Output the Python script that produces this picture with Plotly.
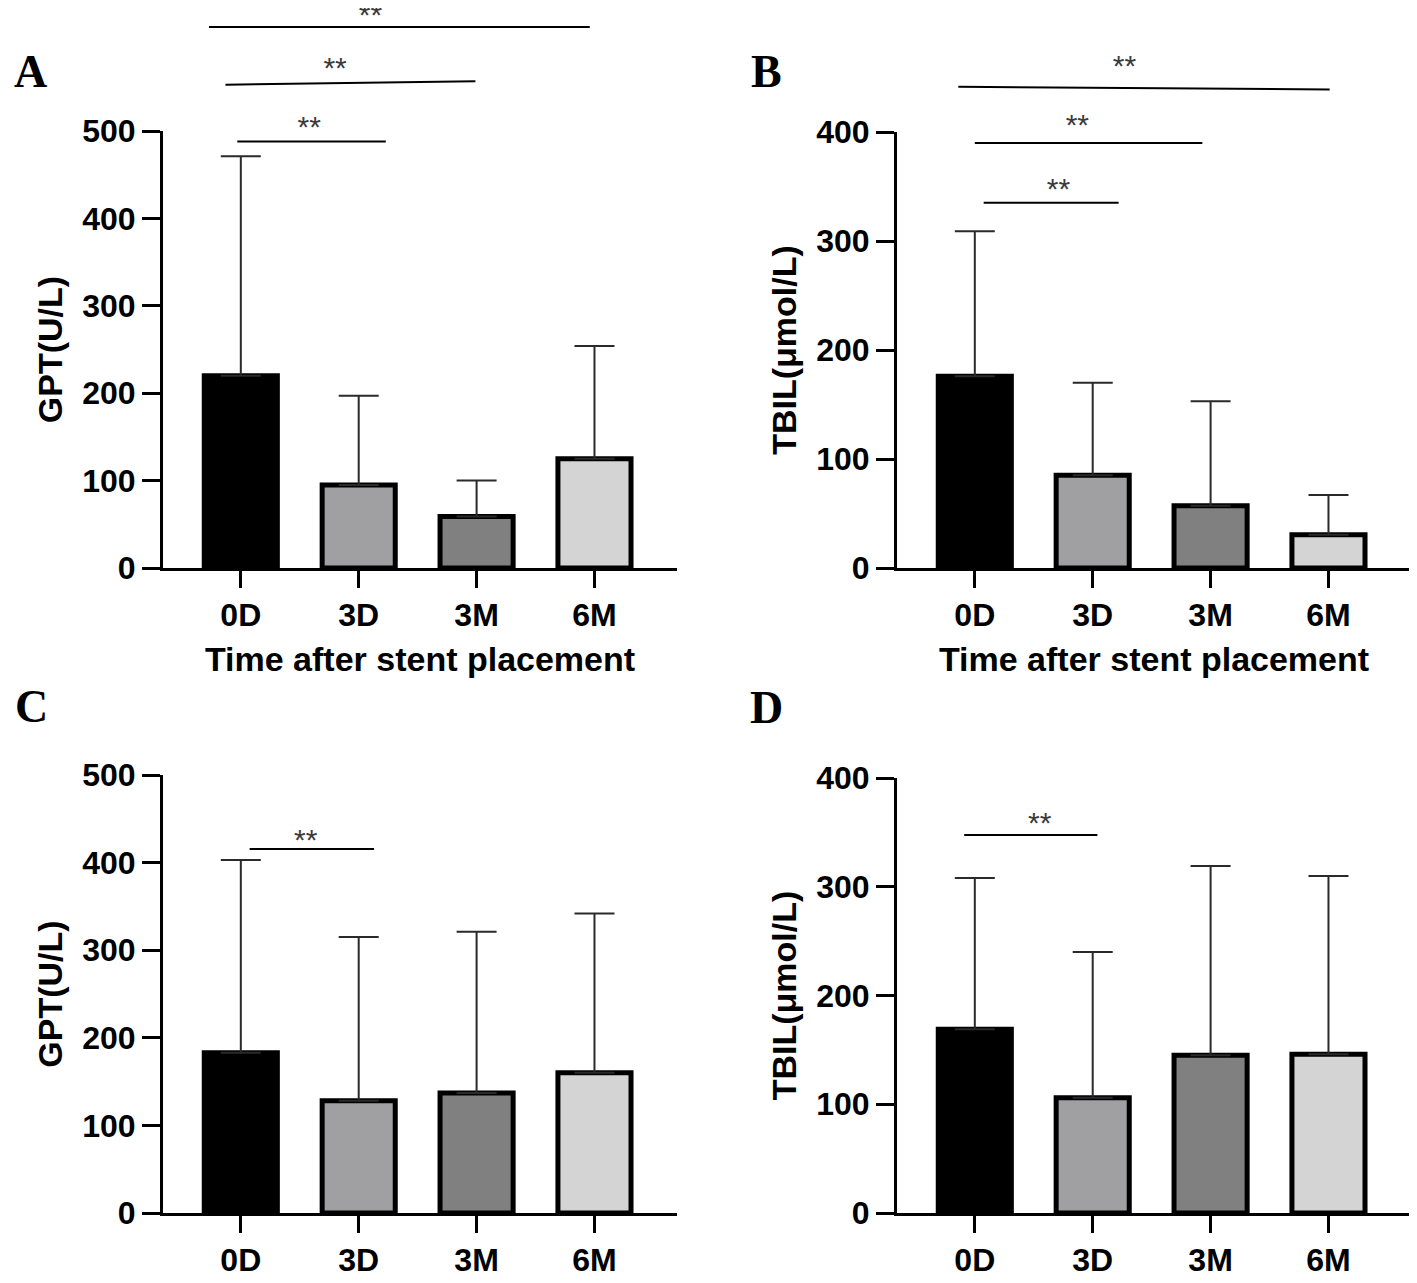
import plotly.graph_objects as go

# categories and bar styling
time_points = ["0D", "3D", "3M", "6M"]
x_pos = [0, 1, 2, 3]
bar_colors = ["#000000", "#a0a0a3", "#808080", "#d4d4d4"]

gpt_ticks = [0, 100, 200, 300, 400, 500]
tbil_ticks = [0, 100, 200, 300, 400]

# panel A: GPT, group 1
gpt_a_mean = [220, 95, 59, 125]
gpt_a_sd = [251, 102, 41, 129]
# panel B: TBIL, group 1
tbil_b_mean = [176, 85, 57, 30.5]
tbil_b_sd = [133, 85, 96, 36.5]
# panel C: GPT, group 2
gpt_c_mean = [183, 128, 137, 160]
gpt_c_sd = [220, 187, 184, 182]
# panel D: TBIL, group 2
tbil_d_mean = [169, 106, 145, 146]
tbil_d_sd = [139, 134, 174, 164]

# significance brackets (x in category units, y in data units)
sig_a_x0 = [-0.03, -0.13, -0.27]
sig_a_x1 = [1.23, 1.99, 2.96]
sig_a_y0 = [488, 553, 619]
sig_a_y1 = [488, 557, 619]
sig_a_star_x = [0.58, 0.80, 1.10]
sig_a_star_y = [502, 569, 630]

sig_b_x0 = [0.075, 0.0, -0.14]
sig_b_x1 = [1.22, 1.93, 3.01]
sig_b_y0 = [335, 390, 441.5]
sig_b_y1 = [335, 390, 439]
sig_b_star_x = [0.71, 0.87, 1.27]
sig_b_star_y = [345, 404, 458]

sig_c_x0 = [0.075]
sig_c_x1 = [1.13]
sig_c_y0 = [415.5]
sig_c_y1 = [415.5]
sig_c_star_x = [0.55]
sig_c_star_y = [423]

sig_d_x0 = [-0.09]
sig_d_x1 = [1.04]
sig_d_y0 = [347.6]
sig_d_y1 = [347.6]
sig_d_star_x = [0.55]
sig_d_star_y = [356]

FONT = "Liberation Sans"
W, H = 1417, 1283
PAGE = 8  # the html page puts the figure 8px in from the top left corner

# panel frames in screen pixels: (left, right, top of y axis, baseline, top of annotation area)
frames = {
    1: (163, 677, 131, 568, 8),
    2: (897, 1411, 132, 568, 8),
    3: (163, 677, 775, 1213, 690),
    4: (897, 1411, 778, 1213, 690),
}


def fx(px):
    return (px - PAGE) / W


def fy(py):
    return 1 - (py - PAGE) / H


fig = go.Figure()


def add_panel(n, mean, sd, x0s, x1s, y0s, y1s, star_x, star_y):
    xa = "x" if n == 1 else f"x{n}"
    ya = "y" if n == 1 else f"y{n}"
    ya_sig = f"y{n + 4}"
    fig.add_trace(go.Bar(
        x=x_pos, y=mean, width=0.62,
        marker=dict(color=bar_colors, line=dict(color="black", width=5)),
        error_y=dict(type="data", array=sd, arrayminus=[0] * len(sd), symmetric=False,
                     color="#2a2a2a", thickness=2, width=20),
        xaxis=xa, yaxis=ya, showlegend=False,
    ))
    for x0, x1, y0, y1 in zip(x0s, x1s, y0s, y1s):
        fig.add_trace(go.Scatter(
            x=[x0, x1], y=[y0, y1], mode="lines",
            line=dict(color="black", width=2),
            cliponaxis=False, xaxis=xa, yaxis=ya_sig, showlegend=False, hoverinfo="skip",
        ))
    fig.add_trace(go.Scatter(
        x=star_x, y=star_y, mode="text", text=["**"] * len(star_x),
        textposition="middle center",
        textfont=dict(family=FONT, size=30, color="#3b3b3b"),
        cliponaxis=False, xaxis=xa, yaxis=ya_sig, showlegend=False, hoverinfo="skip",
    ))


add_panel(1, gpt_a_mean, gpt_a_sd, sig_a_x0, sig_a_x1, sig_a_y0, sig_a_y1, sig_a_star_x, sig_a_star_y)
add_panel(2, tbil_b_mean, tbil_b_sd, sig_b_x0, sig_b_x1, sig_b_y0, sig_b_y1, sig_b_star_x, sig_b_star_y)
add_panel(3, gpt_c_mean, gpt_c_sd, sig_c_x0, sig_c_x1, sig_c_y0, sig_c_y1, sig_c_star_x, sig_c_star_y)
add_panel(4, tbil_d_mean, tbil_d_sd, sig_d_x0, sig_d_x1, sig_d_y0, sig_d_y1, sig_d_star_x, sig_d_star_y)

tick_font = dict(family=FONT, size=32, color="black", weight="bold")
title_font = dict(family=FONT, size=34, color="black", weight="bold")


def x_axis(n, title):
    left, right = frames[n][0], frames[n][1]
    ax = dict(domain=[fx(left), fx(right)], range=[-0.66, 3.70],
              anchor="y" if n == 1 else f"y{n}", automargin=False,
              tickvals=x_pos, ticktext=time_points, tickfont=tick_font,
              showline=True, linewidth=3, linecolor="black",
              ticks="outside", ticklen=17, tickwidth=3, tickcolor="black",
              showgrid=False, zeroline=False, fixedrange=True)
    if title:
        ax["title"] = dict(text=title, font=title_font, standoff=15)
    return ax


def y_axis(n, ymax, ticks, title):
    top, base = frames[n][2], frames[n][3]
    return dict(domain=[fy(base), fy(top)], range=[0, ymax],
                anchor="x" if n == 1 else f"x{n}", automargin=False,
                tickvals=ticks, tickfont=tick_font,
                showline=True, linewidth=3, linecolor="black",
                ticks="outside", ticklen=18, tickwidth=3, tickcolor="black",
                showgrid=False, zeroline=False, fixedrange=True,
                title=dict(text=title, font=title_font, standoff=10))


def sig_axis(n, ymax):
    # invisible axis with the same scale as the panel's y axis, reaching higher up
    top, base, sig_top = frames[n][2], frames[n][3], frames[n][4]
    return dict(domain=[fy(base), fy(sig_top)],
                range=[0, ymax * (base - sig_top) / (base - top)],
                anchor="x" if n == 1 else f"x{n}", visible=False, fixedrange=True,
                automargin=False)


fig.update_layout(
    template="none",
    width=W, height=H,
    margin=dict(l=0, r=0, t=0, b=0, autoexpand=False),
    paper_bgcolor="white", plot_bgcolor="rgba(0,0,0,0)",
    showlegend=False,
    xaxis=x_axis(1, "Time after stent placement"),
    xaxis2=x_axis(2, "Time after stent placement"),
    xaxis3=x_axis(3, None),
    xaxis4=x_axis(4, None),
    yaxis=y_axis(1, 500, gpt_ticks, "GPT(U/L)"),
    yaxis2=y_axis(2, 400, tbil_ticks, "TBIL(μmol/L)"),
    yaxis3=y_axis(3, 500, gpt_ticks, "GPT(U/L)"),
    yaxis4=y_axis(4, 400, tbil_ticks, "TBIL(μmol/L)"),
    yaxis5=sig_axis(1, 500),
    yaxis6=sig_axis(2, 400),
    yaxis7=sig_axis(3, 500),
    yaxis8=sig_axis(4, 400),
)

# panel letters
for letter, px, py in [("A", 30, 72), ("B", 766, 71), ("C", 31, 706), ("D", 766, 707)]:
    fig.add_annotation(text=letter, x=fx(px), y=fy(py), xref="paper", yref="paper",
                       showarrow=False, xanchor="center", yanchor="middle",
                       font=dict(family="Liberation Serif", size=46, color="black", weight="bold"))

fig.write_html("out.html")
